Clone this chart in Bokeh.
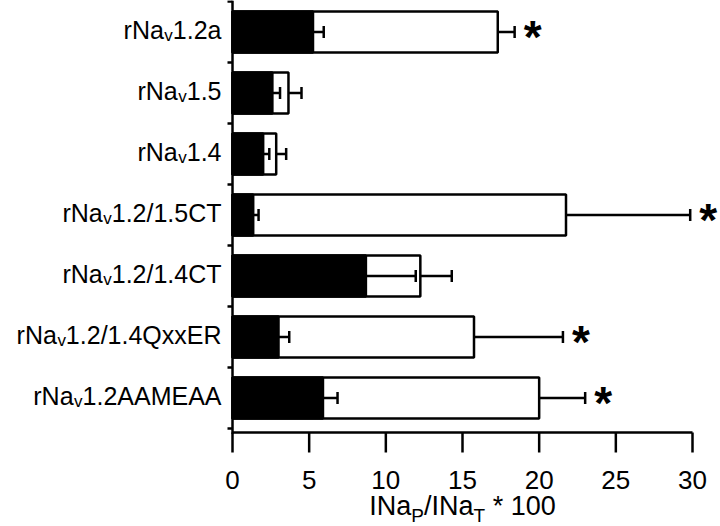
from bokeh.plotting import figure
from bokeh.models import ColumnDataSource, Range1d
from bokeh.embed import file_html
from bokeh.resources import INLINE
from bokeh.core.properties import value

# ---------------- data ----------------
label_prefix = "rNa"
label_sub = "v"
label_tail = ["1.2a", "1.5", "1.4", "1.2/1.5CT", "1.2/1.4CT", "1.2/1.4QxxER", "1.2AAMEAA"]
white_mean = [17.3, 3.65, 2.85, 21.75, 12.25, 15.75, 20.0]
white_sem = [1.1, 0.85, 0.65, 8.1, 2.05, 5.8, 3.0]
black_mean = [5.25, 2.6, 2.0, 1.35, 8.7, 3.0, 5.9]
black_sem = [0.7, 0.5, 0.4, 0.35, 3.25, 0.7, 0.95]
significant = [True, False, False, True, False, True, True]
x_ticks = [0, 5, 10, 15, 20, 25, 30]
title_parts = [("INa", False), ("P", True), ("/INa", False), ("T", True), ("\u00a0* 100", False)]

# ---------------- geometry (frame = whole canvas) ----------------
W, H = 720, 526
X0_PX = 232                      # pixel column of x = 0
ppx = 460 / 30.0                 # pixels per x unit
n = len(label_tail)
ppy = 61.0                       # pixels per category band
BOT_PX = 428                     # pixel row of the lowest band boundary


def dx(px):                      # pixel distance -> x units
    return px / ppx


def dy(px):                      # pixel distance -> y units
    return px / ppy


x_start = -dx(X0_PX)
x_end = dx(W - X0_PX)
y_end = -0.5 + dy(BOT_PX)
y_start = -0.5 - dy(H - BOT_PX)
pos = [n - 1 - i for i in range(n)]
y_axis = -0.5 - dy(4)            # x-axis line sits just below the last band

FONT = "Liberation Sans"
ARIAL = {" ": 278, "\u00a0": 278, "*": 389, ".": 278, "/": 278, "A": 667, "C": 722,
         "E": 667, "I": 278, "M": 833, "N": 722, "P": 667, "Q": 778, "R": 722, "T": 611,
         "a": 556, "r": 333, "v": 500, "x": 500}
for d in "0123456789":
    ARIAL[d] = 556
BASE_SHIFT = 0.4                 # renderer places the alphabetic baseline this many em low


def tw(s, size):
    return sum(ARIAL.get(c, 556) for c in s) * size / 1000.0


p = figure(width=W, height=H, output_backend="svg", toolbar_location=None,
           x_range=Range1d(x_start, x_end), y_range=Range1d(y_start, y_end),
           x_axis_location=None, y_axis_location=None,
           min_border_left=0, min_border_right=0, min_border_top=0, min_border_bottom=0)
p.outline_line_color = None
p.xgrid.visible = False
p.ygrid.visible = False
p.background_fill_color = "white"
p.border_fill_color = "white"

LW = 2.5


def txt(x, y, text, size, align, bold=False):
    p.text(x=x, y=y, text=text, text_font=value(FONT), text_font_size=value(f"{size}px"),
           text_font_style="bold" if bold else "normal", text_align=align,
           text_baseline="alphabetic", text_color="black")


# ---------------- bars ----------------
bar_h = 0.67
src = ColumnDataSource(dict(
    y=pos, wm=white_mean, bm=black_mean,
    wt=[m + s for m, s in zip(white_mean, white_sem)],
    bt=[m + s for m, s in zip(black_mean, black_sem)],
    ylo=[v - dy(6) for v in pos], yhi=[v + dy(6) for v in pos],
))
p.hbar(y="y", left=0, right="wm", height=bar_h, source=src,
       fill_color="white", line_color="black", line_width=LW)
p.hbar(y="y", left=0, right="bm", height=bar_h, source=src,
       fill_color="black", line_color="black", line_width=LW)

# error bars
for m, t in (("wm", "wt"), ("bm", "bt")):
    p.segment(x0=m, y0="y", x1=t, y1="y", source=src, line_color="black", line_width=LW)
    p.segment(x0=t, y0="ylo", x1=t, y1="yhi", source=src, line_color="black", line_width=LW)

# asterisks
sig = [i for i in range(n) if significant[i]]
txt([white_mean[i] + white_sem[i] + dx(18) for i in sig],
    [pos[i] - dy(4.5) for i in sig], ["*"] * len(sig), 46, "center", bold=True)

# ---------------- axes ----------------
TICK = 26
p.segment(x0=[x_ticks[0]], y0=[y_axis], x1=[x_ticks[-1]], y1=[y_axis],
          line_color="black", line_width=LW)
p.segment(x0=x_ticks, y0=[y_axis] * len(x_ticks), x1=x_ticks,
          y1=[y_axis - dy(20)] * len(x_ticks), line_color="black", line_width=LW)
txt(x_ticks, [y_axis - dy(58 - BASE_SHIFT * TICK)] * len(x_ticks),
    [str(t) for t in x_ticks], TICK, "center")

bounds = [i - 0.5 for i in range(n + 1)]
p.segment(x0=[0], y0=[y_axis - dy(1.2)], x1=[0], y1=[y_end],
          line_color="black", line_width=LW)
p.segment(x0=[0] * len(bounds), y0=bounds, x1=[-dx(5)] * len(bounds), y1=bounds,
          line_color="black", line_width=LW)

# category labels: prefix + subscript + tail, right aligned near the axis
MAIN, SUB = 25, 17
anchor = -11.0
tails_x = [dx(anchor)] * n
sub_x = [dx(anchor - tw(t, MAIN)) for t in label_tail]
pre_x = [dx(anchor - tw(t, MAIN) - tw(label_sub, SUB) - 0.5) for t in label_tail]
main_y = [v - dy(8.25 - BASE_SHIFT * MAIN) for v in pos]
sub_y = [v - dy(10.75 - BASE_SHIFT * SUB) for v in pos]
txt(tails_x, main_y, label_tail, MAIN, "right")
txt(sub_x, sub_y, [label_sub] * n, SUB, "right")
txt(pre_x, main_y, [label_prefix] * n, MAIN, "right")

# x-axis title with subscripts, centred under the axis
TMAIN, TSUB = 27, 19
sizes = [TSUB if sub else TMAIN for _, sub in title_parts]
total = sum(tw(t, s) for (t, _), s in zip(title_parts, sizes))
cur = (x_ticks[0] + x_ticks[-1]) / 2 * ppx - total / 2
for (t, sub), s in zip(title_parts, sizes):
    drop = 91.0 if sub else 84.0
    txt([dx(cur)], [y_axis - dy(drop - BASE_SHIFT * s)], [t], s, "left")
    cur += tw(t, s)

open("out.html", "w").write(file_html(p, INLINE))
